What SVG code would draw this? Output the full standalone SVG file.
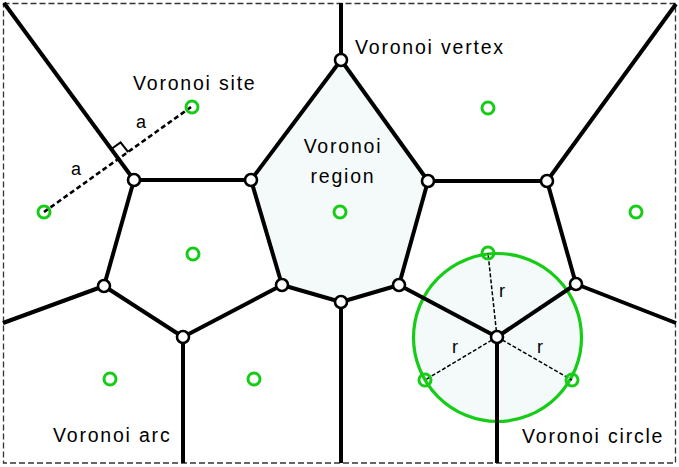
<svg xmlns="http://www.w3.org/2000/svg" width="679" height="467" viewBox="0 0 679 467">
<style>
.edge{stroke:#000;stroke-width:4;fill:none;stroke-linecap:butt}
.vtx{fill:#fff;stroke:#000;stroke-width:2.6}
.site{fill:none;stroke:#16cc16;stroke-width:3}
.lbl{font-family:"Liberation Sans",Arial,sans-serif;font-size:19.5px;fill:#000;letter-spacing:1.8px}
.sm{font-family:"Liberation Sans",Arial,sans-serif;font-size:18px;fill:#000}
.dash{stroke:#000;stroke-width:2.6;stroke-dasharray:5 3;fill:none}
.rdash{stroke:#000;stroke-width:1.5;stroke-dasharray:4 2;fill:none}
</style>
<rect x="0" y="0" width="679" height="467" fill="#fff"/>
<g id="region">
<polygon points="341,60 428,181 399,285 341,302 282,285 251,180" fill="#f4fafa"/>
</g>
<g id="voronoi-circle-fill">
<circle cx="497.5" cy="337.5" r="84" fill="#f4fafa" stroke="#16cc16" stroke-width="3.2"/>
</g>
<g id="border">
<rect x="3.5" y="3.5" width="672" height="459.5" fill="none" stroke="#333" stroke-width="1.3" stroke-dasharray="6 3"/>
</g>
<g id="connectors">
<path class="edge" d="M4,3 L134,180"/>
<path class="edge" d="M341,3 L341,60"/>
<path class="edge" d="M341,60 L251,180"/>
<path class="edge" d="M341,60 L428,181"/>
<path class="edge" d="M134,180 L251,180"/>
<path class="edge" d="M428,181 L547,181"/>
<path class="edge" d="M547,181 L676,4"/>
<path class="edge" d="M134,180 L104,286"/>
<path class="edge" d="M251,180 L282,285"/>
<path class="edge" d="M428,181 L399,285"/>
<path class="edge" d="M547,181 L576,284"/>
<path class="edge" d="M3,323 L104,286"/>
<path class="edge" d="M104,286 L183,337"/>
<path class="edge" d="M183,337 L282,285"/>
<path class="edge" d="M183,337 L183,463"/>
<path class="edge" d="M282,285 L341,302"/>
<path class="edge" d="M341,302 L399,285"/>
<path class="edge" d="M341,302 L341,463"/>
<path class="edge" d="M399,285 L497,337"/>
<path class="edge" d="M576,284 L497,337"/>
<path class="edge" d="M576,284 L676,323"/>
<path class="edge" d="M497,337 L497,463"/>
<path class="dash" d="M44,212 L191,107"/>
<path d="M110.6,149.5 L120.6,142.4 L128.2,152.2" fill="none" stroke="#000" stroke-width="2"/>
<path class="rdash" d="M497,337 L488,253"/>
<path class="rdash" d="M497,337 L425,380"/>
<path class="rdash" d="M497,337 L572,380"/>
</g>
<g id="vertices">
<circle id="v1" class="vtx" cx="341" cy="60" r="6"/>
<circle id="v2" class="vtx" cx="134" cy="180" r="6"/>
<circle id="v3" class="vtx" cx="251" cy="180" r="6"/>
<circle id="v4" class="vtx" cx="428" cy="181" r="6"/>
<circle id="v5" class="vtx" cx="547" cy="181" r="6"/>
<circle id="v6" class="vtx" cx="104" cy="286" r="6"/>
<circle id="v7" class="vtx" cx="183" cy="337" r="6"/>
<circle id="v8" class="vtx" cx="282" cy="285" r="6"/>
<circle id="v9" class="vtx" cx="341" cy="302" r="6"/>
<circle id="v10" class="vtx" cx="399" cy="285" r="6"/>
<circle id="v11" class="vtx" cx="576" cy="284" r="6"/>
<circle id="v12" class="vtx" cx="497" cy="337" r="6"/>
</g>
<g id="sites">
<circle id="s1" class="site" cx="192" cy="107" r="6"/>
<circle id="s2" class="site" cx="44" cy="212" r="6"/>
<circle id="s3" class="site" cx="488" cy="108" r="6"/>
<circle id="s4" class="site" cx="636" cy="212" r="6"/>
<circle id="s5" class="site" cx="340" cy="212" r="6"/>
<circle id="s6" class="site" cx="193" cy="254" r="6"/>
<circle id="s7" class="site" cx="110" cy="379" r="6"/>
<circle id="s8" class="site" cx="254" cy="379" r="6"/>
<circle id="s9" class="site" cx="488" cy="253" r="6"/>
<circle id="s10" class="site" cx="425" cy="380" r="6"/>
<circle id="s11" class="site" cx="572" cy="380" r="6"/>
</g>
<g id="labels">
<text class="lbl" x="133" y="90">Voronoi site</text>
<text class="lbl" x="355" y="54">Voronoi vertex</text>
<text class="lbl" x="343" y="153" text-anchor="middle">Voronoi</text>
<text class="lbl" x="343" y="183" text-anchor="middle">region</text>
<text class="lbl" x="53" y="442">Voronoi arc</text>
<text class="lbl" x="522" y="443">Voronoi circle</text>
<text class="sm" x="136" y="128">a</text>
<text class="sm" x="71" y="175">a</text>
<text class="sm" x="499" y="297">r</text>
<text class="sm" x="452" y="353">r</text>
<text class="sm" x="537" y="353">r</text>
</g>
</svg>
